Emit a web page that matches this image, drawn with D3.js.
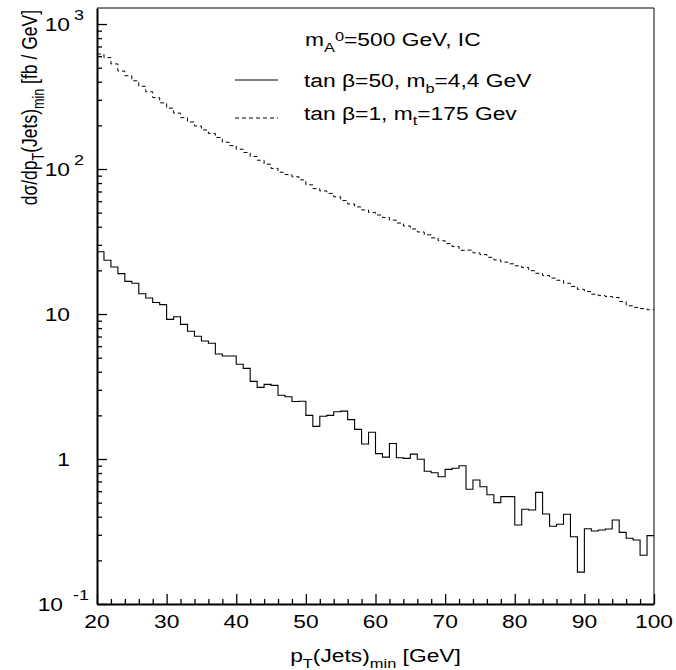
<!DOCTYPE html>
<html>
<head>
<meta charset="utf-8">
<script src="https://cdn.jsdelivr.net/npm/d3@7"></script>
<style>
  body { margin: 0; background: #fff; }
  text { font-family: "Liberation Sans", Arial, Helvetica, sans-serif; fill: #000; }
</style>
</head>
<body>
<svg id="chart" width="676" height="670"></svg>
<script>
// Lower edges of the 1 GeV pT bins
const ptLow = [20,21,22,23,24,25,26,27,28,29,30,31,32,33,34,35,36,37,38,39,
               40,41,42,43,44,45,46,47,48,49,50,51,52,53,54,55,56,57,58,59,
               60,61,62,63,64,65,66,67,68,69,70,71,72,73,74,75,76,77,78,79,
               80,81,82,83,84,85,86,87,88,89,90,91,92,93,94,95,96,97,98,99];
const ptMax = 100;

// dsigma/dpT [fb/GeV], tan(beta)=50, m_b=4.4 GeV
const tanb50 = [26.9, 23.5, 21.1, 19.0, 16.8, 16.3, 13.8, 12.9, 12.0, 11.6,
                9.19, 9.58, 8.49, 7.60, 7.02, 6.51, 6.28, 5.30, 5.13, 5.13,
                4.50, 4.22, 3.43, 3.12, 3.27, 3.22, 2.75, 2.69, 2.49, 2.50,
                2.00, 1.68, 1.97, 2.00, 2.12, 2.14, 1.87, 1.60, 1.27, 1.53,
                1.09, 1.03, 1.28, 1.02, 1.01, 1.08, 0.997, 0.824, 0.803, 0.755,
                0.848, 0.864, 0.898, 0.618, 0.717, 0.644, 0.567, 0.500, 0.550, 0.550,
                0.351, 0.450, 0.445, 0.589, 0.418, 0.344, 0.355, 0.416, 0.291, 0.166,
                0.330, 0.319, 0.324, 0.329, 0.380, 0.312, 0.284, 0.276, 0.217, 0.296];

// dsigma/dpT [fb/GeV], tan(beta)=1, m_t=175 GeV
const tanb1 = [621, 587, 531, 474, 440, 406, 372, 341, 311, 286,
               263, 243, 226, 211, 198, 186, 176, 165, 153, 145,
               137, 130, 122, 115, 108, 101, 95.0, 91.6, 88.4, 84.2,
               77.8, 73.2, 70.6, 67.9, 64.3, 60.6, 57.4, 54.8, 52.2, 50.2,
               48.2, 46.3, 44.4, 42.4, 40.5, 38.6, 36.8, 35.2, 33.5, 32.0,
               30.6, 29.2, 27.5, 27.6, 26.4, 25.7, 24.6, 23.6, 22.8, 22.2,
               21.5, 20.9, 19.9, 19.1, 18.4, 17.7, 17.1, 16.3, 15.5, 14.8,
               14.3, 13.7, 13.4, 13.2, 13.0, 12.2, 11.4, 11.1, 10.9, 10.7];

// Axis ticks and labels
const xMajor = [20, 30, 40, 50, 60, 70, 80, 90, 100];
const xMinor = [22,24,26,28,32,34,36,38,42,44,46,48,52,54,56,58,62,64,66,68,72,74,76,78,82,84,86,88,92,94,96,98];
const yRange = [0.1, 1290];
const yMajor = [0.1, 1, 10, 100, 1000];
const yLabelBase = ["10", "1", "10", "10", "10"];
const yLabelExp  = ["-1", "", "", "2", "3"];
const yMinorMult = [2, 3, 4, 5, 6, 7, 8, 9];

// Legend and titles (rich text parts)
const headerParts = [{t: "m"}, {t: "A", sub: true}, {t: "0", sup: true}, {t: "=500 GeV, IC"}];
const legendParts = [
  [{t: "tan β=50, m"}, {t: "b", sub: true}, {t: "=4,4 GeV"}],
  [{t: "tan β=1, m"}, {t: "t", sub: true}, {t: "=175 Gev"}]
];
const legendDash = [null, "4,3"];
const xTitleParts = [{t: "p"}, {t: "T", sub: true}, {t: "(Jets)"}, {t: "min", sub: true}, {t: " [GeV]"}];
const yTitleParts = [{t: "dσ/dp"}, {t: "T", sub: true}, {t: "(Jets)"}, {t: "min", sub: true}, {t: " [fb / GeV]"}];

// ---- layout ----
const L = 97, R = 654, T = 8, B = 604;
const SX = 1.2;          // horizontal text stretch
const FS = 19;

const svg = d3.select("#chart");
svg.append("rect").attr("width", 676).attr("height", 670).attr("fill", "#fff");

const x = d3.scaleLinear().domain([ptLow[0], ptMax]).range([L, R]);
const y = d3.scaleLog().domain(yRange).range([B, T]);

function richText(parent, parts, size, subK = 0.3, supK = 0.3) {
  const t = parent.append("text").attr("font-size", size);
  let cur = 0;
  parts.forEach(p => {
    const off = p.sub ? size * subK : p.sup ? -size * supK : 0;
    t.append("tspan")
      .attr("dy", off - cur)
      .attr("font-size", (p.sub || p.sup) ? size * 0.72 : size)
      .text(p.t);
    cur = off;
  });
  return t;
}

// clip for histograms
svg.append("clipPath").attr("id", "plotClip")
  .append("rect").attr("x", L).attr("y", T).attr("width", R - L).attr("height", B - T);

const step = d3.line().x(d => x(d[0])).y(d => y(d[1])).curve(d3.curveStepAfter);
function histPoints(vals) {
  const pts = ptLow.map((p, i) => [p, vals[i]]);
  pts.push([ptMax, vals[vals.length - 1]]);
  return pts;
}

const plot = svg.append("g").attr("clip-path", "url(#plotClip)");
plot.append("path").attr("d", step(histPoints(tanb1)))
  .attr("fill", "none").attr("stroke", "#000").attr("stroke-width", 1)
  .attr("stroke-dasharray", "4,3");
plot.append("path").attr("d", step(histPoints(tanb50)))
  .attr("fill", "none").attr("stroke", "#000").attr("stroke-width", 1.1);

// frame (top and right)
svg.append("path").attr("d", `M${L},${T}H${R}V${B}`)
  .attr("fill", "none").attr("stroke", "#000").attr("stroke-width", 1);

// y axis: ticks pointing inward
const yMinor = [];
yMajor.forEach(m => yMinorMult.forEach(k => { const v = m * k; if (v <= yRange[1]) yMinor.push(v); }));
const yAxisG = svg.append("g").attr("transform", `translate(${L},0)`);
yAxisG.call(d3.axisRight(y).tickValues(yMajor).tickSize(10).tickSizeOuter(0).tickFormat(""));
yAxisG.append("g").call(d3.axisRight(y).tickValues(yMinor).tickSize(5).tickSizeOuter(0).tickFormat(""))
  .select(".domain").remove();
yAxisG.selectAll(".tick line").attr("stroke", "#000").attr("stroke-width", 1.3);
yAxisG.select(".domain").attr("stroke", "#000").attr("stroke-width", 2);

// x axis: ticks pointing inward
const xAxisG = svg.append("g").attr("transform", `translate(0,${B})`);
xAxisG.call(d3.axisTop(x).tickValues(xMajor).tickSize(10).tickSizeOuter(0).tickFormat(""));
xAxisG.append("g").call(d3.axisTop(x).tickValues(xMinor).tickSize(5).tickSizeOuter(0).tickFormat(""))
  .select(".domain").remove();
xAxisG.selectAll(".tick line").attr("stroke", "#000").attr("stroke-width", 1.3);
xAxisG.select(".domain").attr("stroke", "#000").attr("stroke-width", 2);

// x tick labels
xMajor.forEach(v => {
  svg.append("g").attr("transform", `translate(${x(v)},628) scale(${SX},1)`)
    .append("text").attr("font-size", FS).attr("text-anchor", "middle").text(v);
});

// y tick labels (powers of ten)
yMajor.forEach((v, i) => {
  const base = yLabelBase[i], exp = yLabelExp[i];
  const yy = y(v) + 7;
  const baseEnd = exp.length > 1 ? 63 : 70;
  const expGap = exp.length > 1 ? 10 : 4;
  svg.append("g").attr("transform", `translate(${baseEnd},${yy}) scale(${SX},1)`)
    .append("text").attr("font-size", FS).attr("text-anchor", "end").text(base);
  if (exp) {
    svg.append("g").attr("transform", `translate(${baseEnd + expGap},${yy - 11}) scale(${SX},1)`)
      .append("text").attr("font-size", 15).attr("text-anchor", "start").text(exp);
  }
});

// axis titles
const xt = svg.append("g").attr("transform", `translate(${(L + R) / 2},662) scale(${SX},1)`);
richText(xt, xTitleParts, FS).attr("text-anchor", "middle");

const yt = svg.append("g").attr("transform", `translate(37,10) scale(1.25,1) rotate(-90)`);
richText(yt, yTitleParts, 17.5).attr("text-anchor", "end");

// legend
const lg = svg.append("g");
const hdr = lg.append("g").attr("transform", `translate(305,46) scale(${SX},1)`);
richText(hdr, headerParts, FS, 0.3, 0.24);

const rowBase = [87, 119.5];
const rowLine = [80, 118];
legendParts.forEach((parts, i) => {
  const ln = lg.append("line").attr("x1", 235).attr("x2", 278)
    .attr("y1", rowLine[i]).attr("y2", rowLine[i])
    .attr("stroke", "#000").attr("stroke-width", 1);
  if (legendDash[i]) ln.attr("stroke-dasharray", legendDash[i]);
  const g = lg.append("g").attr("transform", `translate(304,${rowBase[i]}) scale(${SX},1)`);
  richText(g, parts, FS);
});
</script>
</body>
</html>
